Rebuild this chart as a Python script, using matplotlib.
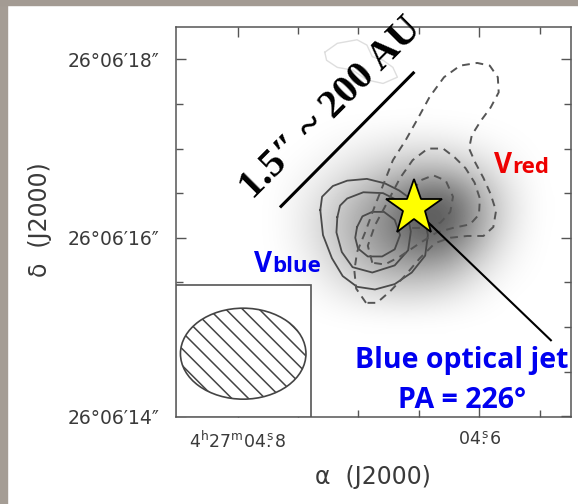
import numpy as np
import matplotlib
matplotlib.use("Agg")
import matplotlib.pyplot as plt
from matplotlib.patches import Ellipse, Rectangle
from matplotlib.colors import LinearSegmentedColormap
from matplotlib.ticker import FixedLocator, MultipleLocator

W, H, DPI = 578, 504, 100

# ---------------- data ----------------
# RA in seconds past 4h27m, Dec in arcsec past +26d06'
star_ra_s = 4.6544
star_dec_s = 16.33
dec_deg = 26.1

ra_major = [4.8, 4.6]
ra_minor = [4.75, 4.70, 4.65, 4.55]
ra_labels = [r"$4^{\rm h}27^{\rm m}04\overset{\rm s}{.}8$", r"$04\overset{\rm s}{.}6$"]
dec_major = [14, 16, 18]
dec_labels = ["26°06′14″", "26°06′16″", "26°06′18″"]

# contour vertices: offsets from the star in arcsec (east +, north +)
blue_outer_dx = [1.04, 1.02, 0.90, 0.74, 0.52, 0.32, 0.16, 0.01, -0.12, -0.16, -0.13, 0.02, 0.21, 0.43, 0.63, 0.79, 0.91, 1.01]
blue_outer_dy = [-0.02, 0.13, 0.25, 0.31, 0.33, 0.28, 0.20, 0.09, -0.08, -0.30, -0.53, -0.72, -0.85, -0.91, -0.88, -0.76, -0.56, -0.30]
blue_mid_dx = [0.85, 0.82, 0.74, 0.56, 0.34, 0.18, 0.07, 0.03, 0.06, 0.21, 0.46, 0.68, 0.80, 0.86]
blue_mid_dy = [-0.10, 0.03, 0.11, 0.18, 0.17, 0.09, -0.06, -0.26, -0.47, -0.64, -0.72, -0.66, -0.49, -0.27]
blue_in_dx = [0.63, 0.57, 0.46, 0.33, 0.21, 0.15, 0.21, 0.35, 0.51, 0.62, 0.65]
blue_in_dy = [-0.21, -0.09, -0.04, -0.04, -0.13, -0.30, -0.46, -0.54, -0.54, -0.45, -0.33]

red_outer_dx = [0.53, 0.64, 0.66, 0.63, 0.54, 0.43, 0.32, 0.23, 0.09, -0.05, -0.18, -0.34, -0.52, -0.71, -0.85, -0.94, -0.95,
                -0.86, -0.75, -0.65, -0.62, -0.69, -0.78, -0.86, -0.92, -0.89, -0.78, -0.60, -0.41, -0.24, -0.07, 0.09, 0.26, 0.41]
red_outer_dy = [-1.06, -0.90, -0.70, -0.49, -0.27, 0.03, 0.31, 0.54, 0.76, 1.01, 1.25, 1.47, 1.60, 1.63, 1.60, 1.47, 1.30,
                1.13, 0.98, 0.82, 0.67, 0.51, 0.34, 0.16, -0.03, -0.21, -0.31, -0.31, -0.33, -0.39, -0.56, -0.75, -0.93, -1.06]
red_mid_dx = [0.46, 0.51, 0.43, 0.28, 0.15, 0.01, -0.16, -0.33, -0.46, -0.58, -0.68, -0.74, -0.73, -0.63, -0.44, -0.26, -0.07, 0.15, 0.32]
red_mid_dy = [-0.61, -0.42, -0.19, 0.09, 0.34, 0.54, 0.67, 0.67, 0.57, 0.45, 0.29, 0.11, -0.07, -0.18, -0.22, -0.27, -0.39, -0.54, -0.63]
red_in_dx = [0.12, 0.04, -0.07, -0.22, -0.36, -0.44, -0.41, -0.30, -0.13, 0.04]
red_in_dy = [-0.08, 0.15, 0.31, 0.37, 0.31, 0.13, -0.04, -0.16, -0.22, -0.22]

faint_dx = [0.99, 0.85, 0.63, 0.52, 0.46, 0.34, 0.23, 0.18, 0.34, 0.52, 0.68, 0.85, 0.97]
faint_dy = [1.75, 1.85, 1.89, 1.83, 1.70, 1.66, 1.58, 1.47, 1.40, 1.44, 1.55, 1.58, 1.66]

# continuum (grey scale) intensity, read on a coarse grid of offsets
blob_dx = [1.60, 1.27, 0.93, 0.60, 0.26, -0.07, -0.41, -0.74, -1.08, -1.41]
blob_dy = [0.99, 0.70, 0.43, 0.15, -0.13, -0.42, -0.70, -0.98, -1.26]
blob = [
    [0.00, 0.00, 0.00, 0.00, 0.00, 0.00, 0.00, 0.00, 0.00, 0.00],
    [0.00, 0.00, 0.02, 0.05, 0.08, 0.10, 0.08, 0.04, 0.01, 0.00],
    [0.00, 0.02, 0.07, 0.14, 0.22, 0.28, 0.27, 0.17, 0.05, 0.00],
    [0.00, 0.05, 0.14, 0.27, 0.40, 0.58, 0.58, 0.32, 0.10, 0.00],
    [0.00, 0.06, 0.19, 0.34, 0.48, 0.68, 0.66, 0.36, 0.10, 0.00],
    [0.00, 0.05, 0.17, 0.32, 0.44, 0.56, 0.50, 0.26, 0.06, 0.00],
    [0.00, 0.02, 0.11, 0.22, 0.30, 0.32, 0.27, 0.12, 0.02, 0.00],
    [0.00, 0.00, 0.04, 0.09, 0.13, 0.13, 0.09, 0.03, 0.00, 0.00],
    [0.00, 0.00, 0.00, 0.00, 0.00, 0.00, 0.00, 0.00, 0.00, 0.00],
]

# beam (arcsec) and its centre offset
beam_major = 1.40
beam_minor = 1.02
beam_dx, beam_dy = 1.90, -1.63

# jet
jet_pa = 226.0
jet_len = 2.13
# scale bar endpoints (offsets, arcsec)
bar_dx = [1.49, -0.01]
bar_dy = [0.01, 1.53]

# ---------------- helpers ----------------
K = 15.0 * np.cos(np.radians(dec_deg))   # arcsec per RA second


def ra(dx):
    return star_ra_s + np.asarray(dx, float) / K


def dec(dy):
    return star_dec_s + np.asarray(dy, float)


def closed(a):
    a = list(a)
    return a + a[:1]


def fp(x, y):
    return x / W, 1 - y / H


# ---------------- figure ----------------
plt.rcParams["hatch.linewidth"] = 1.1
plt.rcParams["hatch.color"] = "#444444"

fig = plt.figure(figsize=(W / DPI, H / DPI), dpi=DPI)
fig.patches.append(Rectangle((0, 0), 7 / W, 1, transform=fig.transFigure, color="#a59d95", zorder=0))
fig.patches.append(Rectangle((0, 1 - 5 / H), 1, 5 / H, transform=fig.transFigure, color="#a39b93", zorder=0))

ax = fig.add_axes([176 / W, (H - 417) / H, (571 - 176) / W, (417 - 27) / H])

grey = "#4a4a4a"
for s in ax.spines.values():
    s.set_color("#555555")
    s.set_linewidth(1.1)

# continuum image
cmap = LinearSegmentedColormap.from_list("wk", ["#ffffff", "#000000"])
hx = (blob_dx[0] - blob_dx[1]) / 2
hy = (blob_dy[0] - blob_dy[1]) / 2
ax.imshow(np.array(blob), cmap=cmap, vmin=0, vmax=1, interpolation="bicubic", origin="upper",
          extent=(ra(blob_dx[0] + hx), ra(blob_dx[-1] - hx), dec(blob_dy[-1] - hy), dec(blob_dy[0] + hy)),
          aspect="auto", zorder=1)

# faint contour
ax.plot(ra(closed(faint_dx)), dec(closed(faint_dy)), color="#dedede", lw=1.0, zorder=2)
# blue (solid) contours
for cx, cy in [(blue_outer_dx, blue_outer_dy), (blue_mid_dx, blue_mid_dy), (blue_in_dx, blue_in_dy)]:
    ax.plot(ra(closed(cx)), dec(closed(cy)), color=grey, lw=1.3, zorder=3, solid_joinstyle="round")
# red (dashed) contours
for cx, cy in [(red_outer_dx, red_outer_dy), (red_mid_dx, red_mid_dy), (red_in_dx, red_in_dy)]:
    ax.plot(ra(closed(cx)), dec(closed(cy)), color="#555555", lw=1.4, ls=(0, (4, 3)), zorder=3)

# scale bar
ax.plot(ra(bar_dx), dec(bar_dy), color="black", lw=2.2, solid_capstyle="butt", zorder=4)

# jet
pa = np.radians(jet_pa)
ax.plot(ra([0, jet_len * np.sin(pa)]), dec([0, jet_len * np.cos(pa)]), color="black", lw=1.5, zorder=4)

# star
ax.plot(ra([0]), dec([0]), marker="*", ms=42, mfc="#ffff00", mec="black", mew=1.3, zorder=6)

# beam inset
ax.add_patch(Rectangle((0, 0), (310.7 - 176) / 395, (417 - 285) / 390, transform=ax.transAxes,
                       facecolor="white", edgecolor="#555555", lw=1.2, zorder=5))
ax.add_patch(Ellipse((ra(beam_dx), dec(beam_dy)), beam_major / K, beam_minor,
                     facecolor="none", edgecolor="#444444", hatch="\\\\", lw=1.2, zorder=6))

# axes ranges & ticks
ax.set_xlim(4.8511, 4.5240)
ax.set_ylim(13.99, 18.363)
ax.xaxis.set_major_locator(FixedLocator(ra_major))
ax.xaxis.set_minor_locator(FixedLocator(ra_minor))
ax.set_xticklabels(ra_labels)
ax.yaxis.set_major_locator(FixedLocator(dec_major))
ax.yaxis.set_minor_locator(MultipleLocator(0.5))
ax.set_yticklabels(dec_labels)
ax.tick_params(which="both", direction="in", top=True, right=True, color="#555555", width=1.0)
ax.tick_params(which="major", length=7)
ax.tick_params(which="minor", length=5)
ax.tick_params(axis="y", which="major", labelsize=13.5, labelcolor="#3a3a3a", pad=12)
ax.tick_params(axis="x", which="major", labelsize=12.5, labelcolor="#3a3a3a", pad=10)

fig.text(*fp(373, 477), "α  (J2000)", fontsize=17, color="#3a3a3a", ha="center", va="center")
fig.text(*fp(40, 220), "δ  (J2000)", fontsize=17, color="#3a3a3a", ha="center", va="center", rotation=90)

# annotations
fig.text(*fp(337.5, 115), "1.5″ ~ 200 AU", fontsize=29, fontweight="bold",
         family=["Liberation Serif", "DejaVu Serif"], rotation=45, rotation_mode="anchor",
         ha="center", va="baseline", color="black")

sans = ["Open Sans", "DejaVu Sans"]
blue = "#0000f0"
red = "#ee0000"
fig.text(*fp(462, 368), "Blue optical jet", fontsize=20.5, fontweight="bold", family=sans,
         color=blue, ha="center", va="baseline")
fig.text(*fp(462, 408), "PA = 226°", fontsize=20.5, fontweight="bold", family=sans,
         color=blue, ha="center", va="baseline")

fig.canvas.draw()
rend = fig.canvas.get_renderer()
for (x0, y0, sub, col) in [(494, 173.3, "red", red), (254, 271.7, "blue", blue)]:
    tv = fig.text(*fp(x0, y0), "V", fontsize=20, fontweight="bold", family=sans, color=col,
                  ha="left", va="baseline")
    bb = tv.get_window_extent(rend)
    fig.text(bb.x1 / W, 1 - y0 / H, sub, fontsize=16, fontweight="bold", family=sans, color=col,
             ha="left", va="baseline")

fig.savefig("out.png", dpi=DPI)
